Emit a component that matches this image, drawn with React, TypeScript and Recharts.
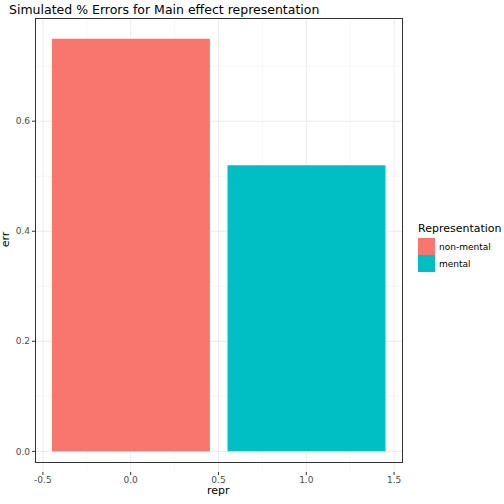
import { BarChart, Bar, XAxis, YAxis, CartesianGrid, Cell } from "recharts";

const reprValues = [0, 1];
const errValues = [0.75, 0.52];
const groupNames = ["non-mental", "mental"];
const groupColors = ["#F8766D", "#00BFC4"];
const xTicks = [-0.5, 0, 0.5, 1, 1.5];
const yTicks = [0, 0.2, 0.4, 0.6];
const xMinor = [-0.25, 0.25, 0.75, 1.25];
const yMinor = [0.1, 0.3, 0.5, 0.7];

const data = reprValues.map((r, i) => ({ repr: r, err: errValues[i], name: groupNames[i] }));

const L = 35, R = 402, T = 18, B = 462;

export default function App() {
  return (
    <div style={{ position: "absolute", left: 0, top: 0, width: 504, height: 504, background: "#fff", fontFamily: "'DejaVu Sans', sans-serif" }}>
      <div style={{ position: "absolute", left: 9, top: 2, fontSize: 12.5, color: "#000" }}>
        Simulated % Errors for Main effect representation
      </div>
      <BarChart width={504} height={504} data={data} margin={{ left: 10, right: 504 - R, top: T, bottom: 504 - B - 30 }}>
        <CartesianGrid stroke="#f2f2f2" strokeWidth={0.6} horizontalValues={yMinor} verticalValues={xMinor} />
        <CartesianGrid stroke="#ebebeb" strokeWidth={1} horizontalValues={yTicks} verticalValues={xTicks} />
        <XAxis dataKey="repr" type="number" domain={[-0.545, 1.545]} ticks={xTicks} height={20}
          tickFormatter={(v) => (v === 0 ? "0.0" : v === 1 ? "1.0" : String(v))}
          tick={{ fontSize: 9, fill: "#4d4d4d" }} tickSize={3} tickLine={{ stroke: "#333" }} axisLine={false} allowDataOverflow />
        <YAxis type="number" domain={[-0.0375, 0.7875]} ticks={yTicks} width={25}
          tickFormatter={(v) => v.toFixed(1)}
          tick={{ fontSize: 9, fill: "#4d4d4d" }} tickSize={3} tickLine={{ stroke: "#333" }} axisLine={false} allowDataOverflow />
        <Bar dataKey="err" barSize={158} isAnimationActive={false}>
          {data.map((d, i) => <Cell key={d.name} fill={groupColors[i]} />)}
        </Bar>
      </BarChart>
      <div style={{ position: "absolute", left: L, top: T, width: R - L - 1, height: B - T - 1, border: "1px solid #333", pointerEvents: "none" }} />
      <div style={{ position: "absolute", left: 207, top: 484, fontSize: 11 }}>repr</div>
      <div style={{ position: "absolute", left: -2, top: 233, fontSize: 11, transform: "rotate(-90deg)" }}>err</div>
      <div style={{ position: "absolute", left: 418, top: 222, fontSize: 11 }}>Representation</div>
      {groupNames.map((n, i) => (
        <div key={n} style={{ position: "absolute", left: 418, top: 238 + i * 17, display: "flex", alignItems: "center" }}>
          <div style={{ width: 17, height: 17, background: groupColors[i] }} />
          <span style={{ fontSize: 9, marginLeft: 4 }}>{n}</span>
        </div>
      ))}
    </div>
  );
}
